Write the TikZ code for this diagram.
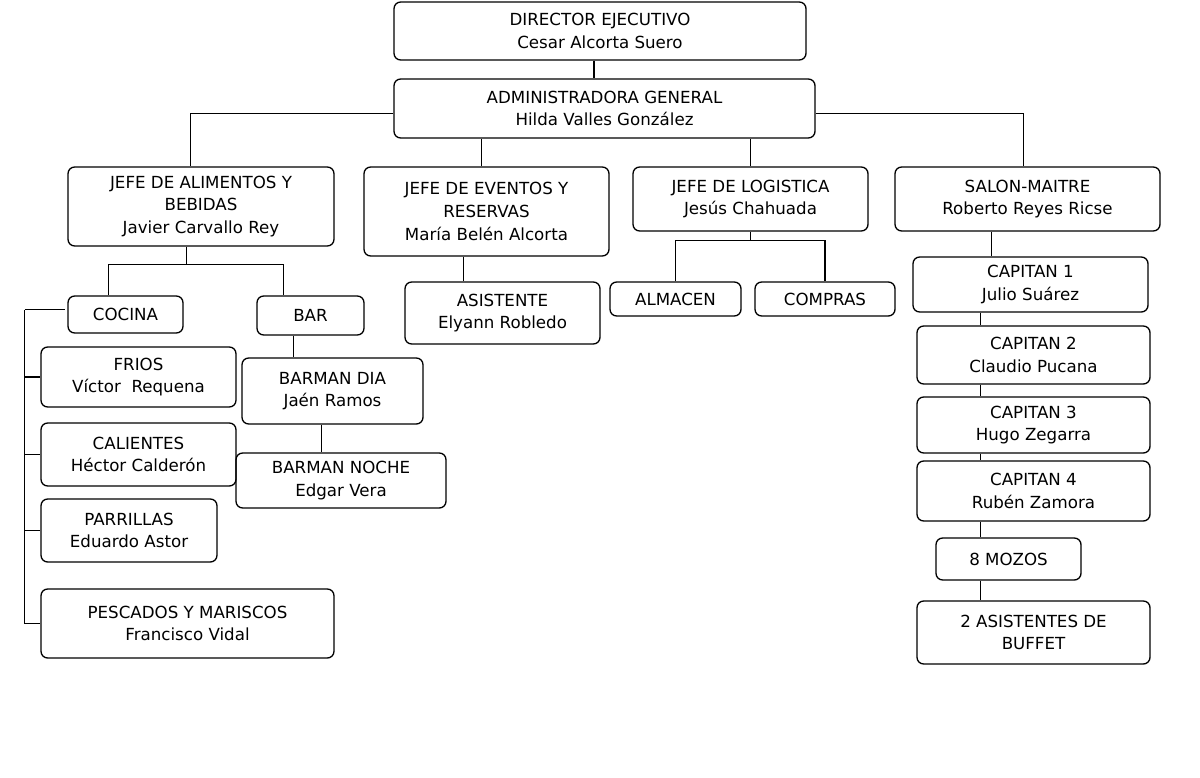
\documentclass[tikz,border=0pt]{standalone}
\usepackage{fontspec}
\setmainfont{DejaVu Sans}
\begin{document}
\begin{tikzpicture}[x=0.75pt,y=0.75pt,yscale=-1,xscale=1,
  box/.style={draw,rounded corners=5pt,line width=1pt,align=center,inner sep=0pt,
    font=\fontsize{12.5}{17}\selectfont},
  ln/.style={line width=0.9pt}]
\newcommand\bx[6]{%
  \pgfmathsetmacro\bw{(#4-#2)*0.75}\pgfmathsetmacro\bh{(#5-#3)*0.75}%
  \node[box,minimum width=\bw pt,minimum height=\bh pt] (#1) at ({(#2+#4)/2},{(#3+#5)/2}) {#6};}
\useasboundingbox (0,0) rectangle (1200,778);
% Boxes
\bx{dir}{394}{2}{806}{60}{DIRECTOR EJECUTIVO\\Cesar Alcorta Suero}
\bx{adm}{394}{79}{815}{138}{ADMINISTRADORA GENERAL\\Hilda Valles González}
\bx{ali}{68}{167}{334}{246}{JEFE DE ALIMENTOS Y\\BEBIDAS\\Javier Carvallo Rey}
\bx{eve}{364}{167}{609}{256}{JEFE DE EVENTOS Y\\RESERVAS\\María Belén Alcorta}
\bx{log}{633}{167}{868}{231}{JEFE DE LOGISTICA\\Jesús Chahuada}
\bx{sal}{895}{167}{1160}{231}{SALON-MAITRE\\Roberto Reyes Ricse}
\bx{coc}{68}{296}{183}{333}{COCINA}
\bx{bar}{257}{296}{364}{335}{BAR}
\bx{asi}{405}{282}{600}{344}{ASISTENTE\\Elyann Robledo}
\bx{alm}{610}{282}{741}{316}{ALMACEN}
\bx{com}{755}{282}{895}{316}{COMPRAS}
\bx{cp1}{913}{257}{1148}{312}{CAPITAN 1\\Julio Suárez}
\bx{cp2}{917}{326}{1150}{384}{CAPITAN 2\\Claudio Pucana}
\bx{cp3}{917}{397}{1150}{453}{CAPITAN 3\\Hugo Zegarra}
\bx{cp4}{917}{461}{1150}{521}{CAPITAN 4\\Rubén Zamora}
\bx{moz}{936}{538}{1081}{580}{8 MOZOS}
\bx{buf}{917}{601}{1150}{664}{2 ASISTENTES DE\\BUFFET}
\bx{fri}{41}{347}{236}{407}{FRIOS\\Víctor~ Requena}
\bx{cal}{41}{423}{236}{486}{CALIENTES\\Héctor Calderón}
\bx{par}{41}{499}{217}{562}{PARRILLAS\\Eduardo Astor}
\bx{pes}{41}{589}{334}{658}{PESCADOS Y MARISCOS\\Francisco Vidal}
\bx{bmd}{242}{358}{423}{424}{BARMAN DIA\\Jaén Ramos}
\bx{bmn}{236}{453}{446}{508}{BARMAN NOCHE\\Edgar Vera}
% Connectors
\draw[ln] ([xshift=-4.5]dir.south) -- ([xshift=-4.5]dir.south |- adm.north);
\draw[ln] ([yshift=4]adm.west) -| ([xshift=-8]ali.north);
\draw[ln] ([yshift=4]adm.east) -| ([xshift=-3]sal.north);
\draw[ln] ([xshift=-4]eve.north) -- ([xshift=-4]eve.north |- adm.south);
\draw[ln] (log.north) -- (log.north |- adm.south);
\draw[ln] ([xshift=-11]ali.south) -- ++(0,18) coordinate (ab);
\draw[ln] ([xshift=-13]coc.north) |- (ab) -| ([xshift=-20]bar.north);
\draw[ln] ([xshift=-8]coc.west) ++(8,-5) -- ++(-40,0) coordinate (sp);
\draw[ln] (sp) |- (pes.west);
\foreach \n in {fri,cal,par} \draw[ln] (sp |- \n.west) -- (\n.west);
\draw[ln] ([xshift=-13]bar.south) -- ([xshift=-13]bar.south |- bmd.north);
\draw[ln] ([xshift=-8]bmd.south) -- ([xshift=-8]bmd.south |- bmn.north);
\draw[ln] ([xshift=-17]eve.south) -- ([xshift=-17]eve.south |- asi.north);
\draw[ln] (log.south) -- ++(0,9) coordinate (lg);
\draw[ln] (alm.north) |- (lg) -| (com.north);
\draw[ln] ([xshift=-27]sal.south) -- ([xshift=-27]sal.south |- cp1.north);
\foreach \a/\b in {cp1/cp2,cp2/cp3,cp3/cp4,cp4/moz,moz/buf}
  \draw[ln] ([xshift=-40]\a.south -| buf.north) -- ([xshift=-40]\b.north -| buf.north);
\end{tikzpicture}
\end{document}
